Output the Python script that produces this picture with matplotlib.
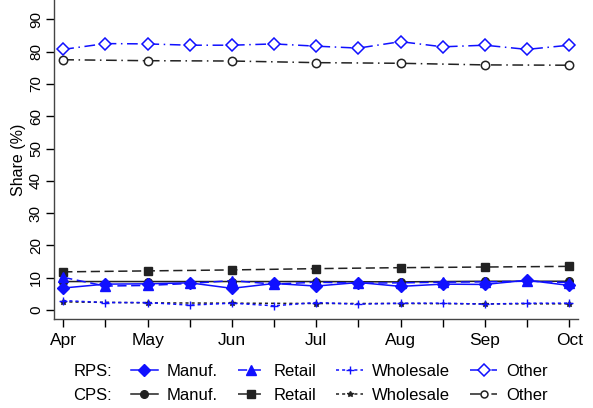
import numpy as np
import matplotlib as mpl
import matplotlib.pyplot as plt
from matplotlib.lines import Line2D

mpl.use('Agg')
plt.rcParams['font.family'] = ['Liberation Sans', 'DejaVu Sans']

months = ['Apr', 'May', 'Jun', 'Jul', 'Aug', 'Sep', 'Oct']

# RPS is observed twice a month, CPS once a month
rps_manuf = [6.8, 8.0, 8.1, 8.4, 6.7, 8.2, 7.4, 8.5, 7.3, 8.0, 7.9, 9.2, 7.6]
rps_retail = [10.1, 7.4, 7.6, 8.2, 9.1, 8.0, 8.6, 8.3, 8.4, 8.6, 8.7, 8.9, 8.5]
rps_wholesale = [2.9, 2.3, 2.3, 1.5, 2.1, 1.3, 2.3, 1.8, 2.1, 2.1, 1.8, 2.1, 2.1]
rps_other = [80.7, 82.5, 82.4, 82.0, 82.0, 82.4, 81.7, 81.1, 83.1, 81.5, 82.0, 80.7, 82.0]

cps_manuf = [8.8, 8.8, 8.8, 8.8, 8.7, 8.9, 8.9]
cps_retail = [11.8, 12.1, 12.4, 12.8, 13.1, 13.3, 13.5]
cps_wholesale = [2.5, 2.2, 2.1, 2.0, 2.0, 1.9, 1.9]
cps_other = [77.5, 77.2, 77.1, 76.6, 76.4, 75.9, 75.8]

blue = '#1010ff'
dark = '#222222'
x_rps = np.arange(len(rps_manuf)) / 2.0
x_cps = np.arange(len(cps_manuf))

fig = plt.figure(figsize=(5.93, 4.08), dpi=100)
ax = fig.add_axes([54/593, 1-319/408, (578-54)/593, 319/408])

lw = 1.1
# CPS (black) drawn first, RPS on top
ax.plot(x_cps, cps_manuf, color=dark, lw=lw, ls='-', marker='o', ms=5.5)
ax.plot(x_cps, cps_retail, color=dark, lw=lw, ls=(0, (6, 3)), marker='s', ms=6)
ax.plot(x_cps, cps_wholesale, color=dark, lw=lw, ls=(0, (2, 2)), marker='*', ms=4)
ax.plot(x_cps, cps_other, color=dark, lw=lw, ls=(0, (7, 3, 1, 3)), marker='o', ms=6,
        mfc='white', mew=1.1)

ax.plot(x_rps, rps_manuf, color=blue, lw=lw, ls='-', marker='D', ms=6.5)
ax.plot(x_rps, rps_retail, color=blue, lw=lw, ls=(0, (6, 3)), marker='^', ms=6.5)
ax.plot(x_rps, rps_wholesale, color=blue, lw=lw, ls=(0, (2, 2)), marker='+', ms=6, mew=1)
ax.plot(x_rps, rps_other, color=blue, lw=lw, ls=(0, (7, 3, 1, 3)), marker='D', ms=6.5,
        mfc='white', mew=1.1)

ax.set_xlim(-0.11, 6.105)
ax.set_ylim(-2.8, 96)
ax.set_yticks(np.arange(0, 91, 10))
ax.set_xticks(x_rps)
ax.set_xticklabels([months[i // 2] if i % 2 == 0 else '' for i in range(len(x_rps))],
                   fontsize=12.5)
ax.tick_params(axis='x', length=6, width=1, pad=4)
ax.tick_params(axis='y', length=6, width=1, labelsize=11, labelrotation=90, pad=2)
for lab in ax.get_yticklabels():
    lab.set_va('center')
ax.set_ylabel('Share (%)', fontsize=11.5, labelpad=2)
for s in ['top', 'right']:
    ax.spines[s].set_visible(False)
for s in ['left', 'bottom']:
    ax.spines[s].set_color('#444444')
    ax.spines[s].set_linewidth(1)

# legend: rows RPS / CPS, four sectors
def key(color, ls, marker, ms, mfc=None, mew=1.0):
    return Line2D([], [], color=color, lw=lw, ls=ls, marker=marker, ms=ms,
                  mfc=mfc if mfc else color, mew=mew)

handles = [
    key(blue, '-', 'D', 6.5), key(dark, '-', 'o', 5.5),
    key(blue, (0, (6, 3)), '^', 6.5), key(dark, (0, (6, 3)), 's', 6),
    key(blue, (0, (2, 2)), '+', 6), key(dark, (0, (2, 2)), '*', 4),
    key(blue, (0, (7, 3, 1, 3)), 'D', 6.5, 'white', 1.1),
    key(dark, (0, (7, 3, 1, 3)), 'o', 5, 'white', 1.1),
]
labels = ['Manuf.', 'Manuf.', 'Retail', 'Retail', 'Wholesale', 'Wholesale', 'Other', 'Other']
fig.legend(handles, labels, ncol=4, loc='center left', bbox_to_anchor=(131/593, 1-383.3/408),
           frameon=False, fontsize=12, handlelength=1.6, handletextpad=0.55,
           columnspacing=1.2, labelspacing=0.55, borderpad=0, borderaxespad=0)
fig.text(112/593, 1-371/408, 'RPS:', ha='right', va='center', fontsize=12)
fig.text(112/593, 1-395.7/408, 'CPS:', ha='right', va='center', fontsize=12)

fig.savefig('out.png', dpi=100)
